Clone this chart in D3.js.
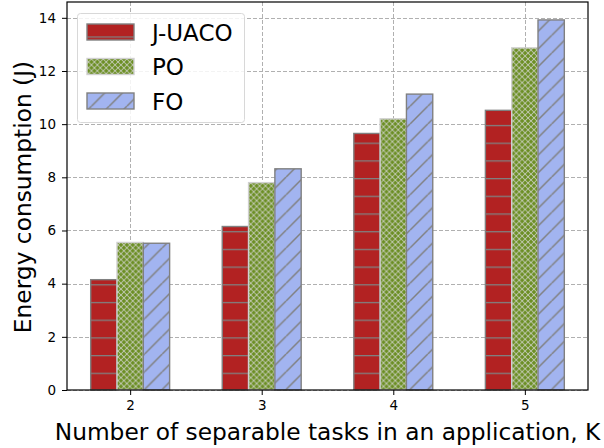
<!DOCTYPE html>
<html>
<head>
<meta charset="utf-8">
<script src="https://cdn.jsdelivr.net/npm/d3@7"></script>
<style>
  html, body { margin: 0; padding: 0; background: #fff; }
  svg { display: block; font-family: "DejaVu Sans", sans-serif; }
</style>
</head>
<body>
<svg id="chart" width="604" height="448"></svg>
<script>
// Energy consumption per number of separable tasks
const categories = [2, 3, 4, 5];
const seriesNames = ["J-UACO", "PO", "FO"];
const juaco = [4.15, 6.15, 9.65, 10.52];
const po = [5.55, 7.8, 10.2, 12.87];
const fo = [5.52, 8.32, 11.13, 13.92];
const yTicks = [0, 2, 4, 6, 8, 10, 12, 14];
const xLabel = "Number of separable tasks in an application, K";
const yLabel = "Energy consumption (J)";

const series = [juaco, po, fo];
const fills = ["url(#hatch-red)", "url(#hatch-green)", "url(#hatch-blue)"];
const edges = ["#808080", "#d0d0d0", "#808080"];

const svg = d3.select("#chart");
const plotL = 67, plotR = 588, plotT = 2, plotB = 390;
const barW = 0.2;

const x = d3.scaleLinear().domain([1.52, 5.48]).range([plotL, plotR]);
const y = d3.scaleLinear().domain([0, 14.595]).range([plotB, plotT]);

// hatch patterns, anchored to the page origin
const defs = svg.append("defs");
const sp = 17.7;
const pr = defs.append("pattern").attr("id", "hatch-red")
  .attr("patternUnits", "userSpaceOnUse").attr("width", 20).attr("height", sp)
  .attr("y", 1.0);
pr.append("rect").attr("width", 20).attr("height", sp).attr("fill", "#b22222");
pr.append("line").attr("x1", 0).attr("x2", 20).attr("y1", 0).attr("y2", 0)
  .attr("stroke", "#808080").attr("stroke-width", 2.6);

// cross hatch: green diamonds between light grey diagonals
const gs = 5.9, gh = gs / 2 - 0.6;
const pg = defs.append("pattern").attr("id", "hatch-green")
  .attr("patternUnits", "userSpaceOnUse").attr("width", gs).attr("height", gs);
pg.append("rect").attr("width", gs).attr("height", gs).attr("fill", "#cfd2c8");
[[gs / 2, gs / 2], [0, 0], [gs, 0], [0, gs], [gs, gs]].forEach(([cx, cy]) => {
  pg.append("polygon")
    .attr("points", [[cx, cy - gh], [cx + gh, cy], [cx, cy + gh], [cx - gh, cy]].join(" "))
    .attr("fill", "#6b8e23");
});

const pb = defs.append("pattern").attr("id", "hatch-blue")
  .attr("patternUnits", "userSpaceOnUse").attr("width", sp).attr("height", sp)
  .attr("x", 3);
pb.append("rect").attr("width", sp).attr("height", sp).attr("fill", "#a2b4f0");
[[0, sp, sp, 0], [-sp, sp, 0, 0], [sp, sp, 2 * sp, 0]].forEach(l => {
  pb.append("line").attr("x1", l[0]).attr("y1", l[1]).attr("x2", l[2]).attr("y2", l[3])
    .attr("stroke", "#808080").attr("stroke-width", 1.5);
});

// grid
const grid = svg.append("g").attr("stroke", "#b0b0b0").attr("stroke-width", 1)
  .attr("stroke-dasharray", "4,2");
yTicks.forEach(t => {
  grid.append("line").attr("x1", plotL).attr("x2", plotR)
    .attr("y1", Math.round(y(t)) + 0.5).attr("y2", Math.round(y(t)) + 0.5);
});
categories.forEach(c => {
  grid.append("line").attr("y1", plotT).attr("y2", plotB)
    .attr("x1", Math.round(x(c)) + 0.5).attr("x2", Math.round(x(c)) + 0.5);
});

// bars
series.forEach((vals, si) => {
  const off = (si - 1) * barW;
  svg.append("g").selectAll("rect").data(vals).join("rect")
    .attr("x", (d, i) => x(categories[i] + off - barW / 2))
    .attr("width", x(barW) - x(0))
    .attr("y", d => y(d))
    .attr("height", d => y(0) - y(d))
    .attr("fill", fills[si])
    .attr("stroke", edges[si])
    .attr("stroke-width", 1.4);
});

// axes
const yAxis = svg.append("g").attr("transform", `translate(${plotL},0)`)
  .call(d3.axisLeft(y).tickValues(yTicks).tickSize(5).tickPadding(6).tickFormat(d3.format("d")));
const xAxis = svg.append("g").attr("transform", `translate(0,${plotB})`)
  .call(d3.axisBottom(x).tickValues(categories).tickSize(5).tickPadding(5).tickFormat(d3.format("d")));
[yAxis, xAxis].forEach(a => {
  a.select(".domain").remove();
  a.selectAll("text").attr("font-size", 13.5).attr("fill", "#000")
    .attr("font-family", "DejaVu Sans");
  a.selectAll(".tick line").attr("stroke", "#000");
});

// frame
svg.append("rect").attr("x", plotL).attr("y", plotT).attr("width", plotR - plotL)
  .attr("height", plotB - plotT).attr("fill", "none").attr("stroke", "#000")
  .attr("stroke-width", 1.2);

// axis labels
svg.append("text").attr("x", 327.5).attr("y", 440).attr("text-anchor", "middle")
  .attr("font-size", 23.3).text(xLabel);
svg.append("text").attr("transform", "translate(31,197) rotate(-90)")
  .attr("text-anchor", "middle").attr("font-size", 23.3).text(yLabel);

// legend
const lg = svg.append("g");
lg.append("rect").attr("x", 77.5).attr("y", 13.5).attr("width", 167).attr("height", 109)
  .attr("rx", 3).attr("fill", "#fff").attr("fill-opacity", 0.85)
  .attr("stroke", "#d8d8d8").attr("stroke-width", 1);
seriesNames.forEach((name, i) => {
  const cy = 32 + i * 34.5;
  lg.append("rect").attr("x", 87).attr("y", cy - 8).attr("width", 47).attr("height", 16)
    .attr("fill", fills[i]).attr("stroke", edges[i]).attr("stroke-width", 1.4);
  lg.append("text").attr("x", 152).attr("y", cy + 8.5).attr("font-size", 23).text(name);
});
</script>
</body>
</html>
